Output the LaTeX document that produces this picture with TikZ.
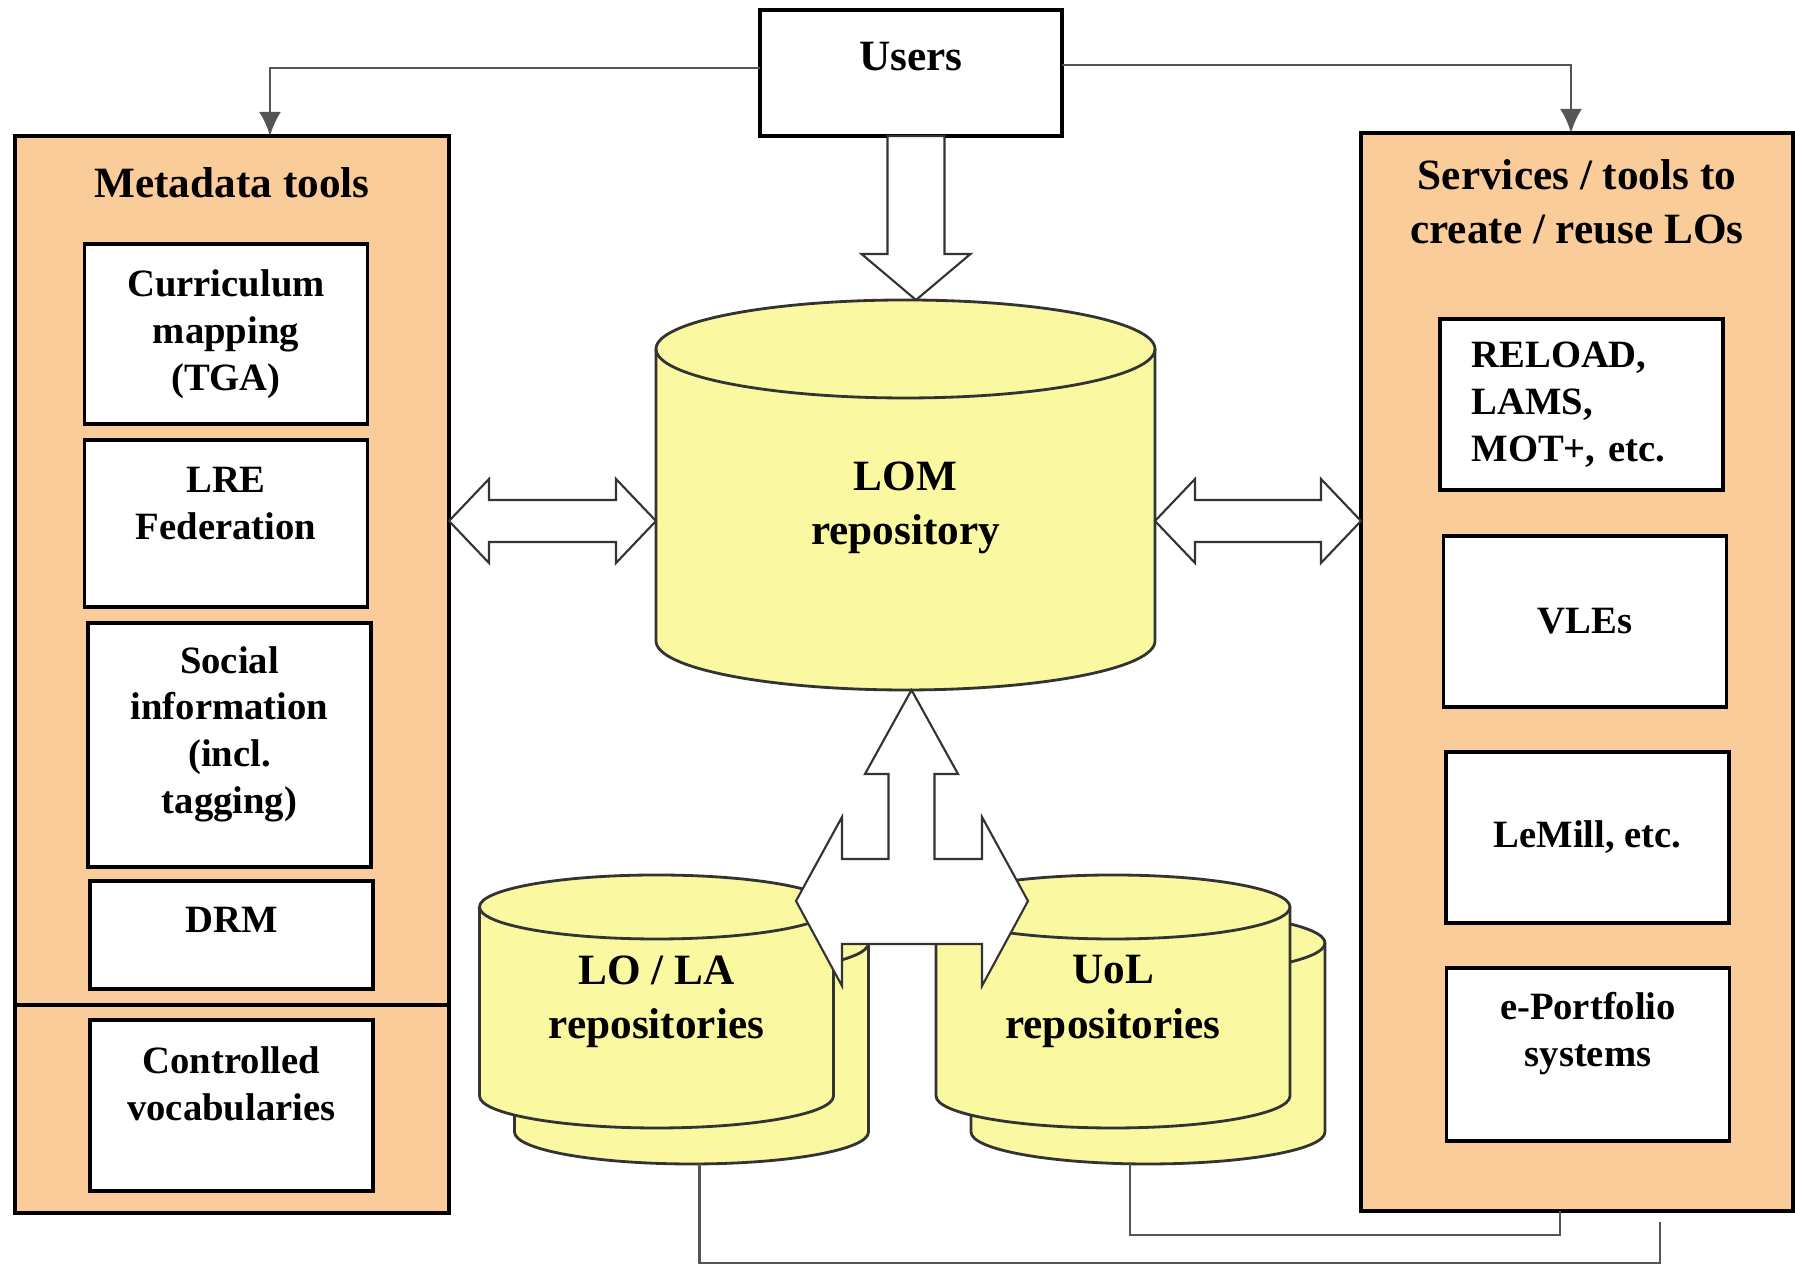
\documentclass[tikz,border=0pt]{standalone}
\usepackage{fontspec}
\setmainfont{Liberation Serif}
\usepackage{xcolor}
\usepackage{tikz}
\usetikzlibrary{arrows.meta,positioning,backgrounds}
\definecolor{panelfill}{HTML}{FACC99}
\definecolor{repofill}{HTML}{FAF8A0}
\definecolor{linkgray}{HTML}{555555}
\newcommand\toolfont{\fontsize{11}{13.3}\selectfont\bfseries}
\newcommand\headfont{\fontsize{12.3}{15.4}\selectfont\bfseries}
% cylinder behind a repository node: node, x radius, y radius, fill
\newcommand\drum[4]{%
  \draw[line width=0.8pt, draw=black!80, fill=#4] ([yshift=-#3]#1.north west) -- ([yshift=#3]#1.south west)
    arc[start angle=180, end angle=360, x radius=#2, y radius=#3]
    -- ([yshift=-#3]#1.north east)
    arc[start angle=0, end angle=180, x radius=#2, y radius=#3] -- cycle;
  \draw[line width=0.8pt, draw=black!80] ([yshift=-#3]#1.north west)
    arc[start angle=180, end angle=360, x radius=#2, y radius=#3];
}

\begin{document}
\begin{tikzpicture}[every node/.style={font=\toolfont},
    every label/.style={align=center},
    panel/.style={draw, fill=panelfill, line width=0.9pt, inner sep=0pt, outer sep=0pt},
    toolbox/.style={draw, fill=white, line width=0.9pt, minimum width=2.83cm, align=center, outer sep=0pt},
    repo/.style={inner sep=0pt, outer sep=0pt, minimum width=3.54cm, minimum height=2.53cm, align=center, font=\headfont},
    hollow/.style={draw=black!80, fill=white, line width=0.6pt, line join=miter},
    link/.style={draw=linkgray, line width=0.8pt}]
    \useasboundingbox (0,0) rectangle (17.95,12.68);

    \node[draw, fill=white, line width=0.9pt, minimum width=3.02cm, minimum height=1.26cm, outer sep=0pt,
          label={[font=\headfont, yshift=0.16cm]center:Users}] (users) at (9.11,11.95) {};

    % left panel
    \node[panel, minimum width=4.34cm, minimum height=10.77cm] (meta) at (2.32,5.935) {};
    \node[font=\headfont] (metatitle) at ([yshift=-0.47cm]meta.north) {Metadata tools};
    \node[toolbox, minimum height=1.80cm] (cur) at (2.26,9.34) {Curriculum\\mapping\\(TGA)};
    \node[toolbox, minimum height=1.67cm, label={[yshift=0.20cm]center:LRE\\Federation}] (lre) at (2.26,7.445) {};
    \node[toolbox, minimum height=2.44cm, label={[yshift=0.11cm]center:Social\\information\\(incl.\\tagging)}] (soc) at (2.295,5.23) {};
    \node[toolbox, minimum height=1.08cm, label={[yshift=0.15cm]center:DRM}] (drm) at (2.315,3.33) {};
    \draw[line width=0.9pt] (meta.west |- 0,2.63) -- (meta.east |- 0,2.63);
    \node[toolbox, minimum height=1.71cm, label={[yshift=0.22cm]center:Controlled\\vocabularies}] (voc) at (2.315,1.625) {};

    % right panel
    \node[panel, minimum width=4.32cm, minimum height=10.78cm] (serv) at (15.77,5.96) {};
    \node[font=\headfont, align=center] (servtitle) at ([yshift=-0.69cm]serv.north) {Services / tools to\\create / reuse LOs};
    \node[toolbox, minimum height=1.71cm, text width=2.2cm, align=left] (reload) at (15.815,8.635) {RELOAD,\\LAMS,\\MOT+, etc.};
    \node[toolbox, minimum height=1.71cm] (vle) at (15.85,6.465) {VLEs};
    \node[toolbox, minimum height=1.71cm] (lemill) at (15.875,4.305) {LeMill, etc.};
    \node[toolbox, minimum height=1.73cm, label={[yshift=0.21cm]center:e-Portfolio\\systems}] (eport) at (15.88,2.135) {};

    % repositories
    \node[repo, minimum width=4.99cm, minimum height=3.90cm,
          label={[font=\headfont, yshift=-0.13cm]center:LOM\\repository}] (lom) at (9.055,7.73) {};
    \node[repo] (lolaback) at (6.915,2.305) {};
    \node[repo] (lola) at (6.565,2.665) {LO / LA\\repositories};
    \node[repo] (uolback) at (11.48,2.305) {};
    \node[repo] (uol) at (11.13,2.665) {UoL\\repositories};
    \begin{scope}[on background layer]
        \drum{lom}{2.495cm}{0.49cm}{repofill}
        \drum{lolaback}{1.77cm}{0.32cm}{repofill}
        \drum{lola}{1.77cm}{0.32cm}{repofill}
        \drum{uolback}{1.77cm}{0.32cm}{repofill}
        \drum{uol}{1.77cm}{0.32cm}{repofill}
    \end{scope}

    % wide arrows
    \draw[hollow] ([xshift=-0.235cm]users.south) -- ++(0,-1.18) -- ++(-0.26,0) -- ++(0.545,-0.46)
        -- ++(0.545,0.46) -- ++(-0.26,0) -- ++(0,1.18) -- cycle;
    \draw[hollow] ([yshift=1.535cm]meta.east) -- ++(0.40,0.42) -- ++(0,-0.21) -- ++(1.27,0) -- ++(0,0.21)
        -- ++(0.40,-0.42) -- ++(-0.40,-0.42) -- ++(0,0.21) -- ++(-1.27,0) -- ++(0,-0.21) -- cycle;
    \draw[hollow] ([yshift=-0.26cm]lom.east) -- ++(0.40,0.42) -- ++(0,-0.21) -- ++(1.26,0) -- ++(0,0.21)
        -- ++(0.40,-0.42) -- ++(-0.40,-0.42) -- ++(0,0.21) -- ++(-1.26,0) -- ++(0,-0.21) -- cycle;
    \draw[hollow] ([xshift=0.06cm]lom.south) -- ++(0.465,-0.84) -- ++(-0.235,0) -- ++(0,-0.85) -- ++(0.475,0)
        -- ++(0,0.42) -- ++(0.46,-0.84) -- ++(-0.46,-0.85) -- ++(0,0.42) -- ++(-1.40,0) -- ++(0,-0.42)
        -- ++(-0.46,0.85) -- ++(0.46,0.84) -- ++(0,-0.42) -- ++(0.465,0) -- ++(0,0.85) -- ++(-0.235,0) -- cycle;

    % thin links
    \draw[link, -{Latex[length=2.4mm, width=2.2mm]}] ([yshift=0.05cm]users.west) -| ([xshift=0.38cm]meta.north);
    \draw[link, -{Latex[length=2.4mm, width=2.2mm]}] ([yshift=0.08cm]users.east) -| ([xshift=-0.06cm]serv.north);
    \draw[link] ([xshift=-0.18cm]uolback.south) -- ([xshift=-0.18cm]uolback.south |- 0,0.33) -| ([xshift=-0.17cm]serv.south);
    \draw[link, shorten >=1.1mm] ([xshift=0.08cm]lolaback.south) -- ([xshift=0.08cm]lolaback.south |- 0,0.05) -| ([xshift=0.83cm]serv.south);
\end{tikzpicture}
\end{document}
